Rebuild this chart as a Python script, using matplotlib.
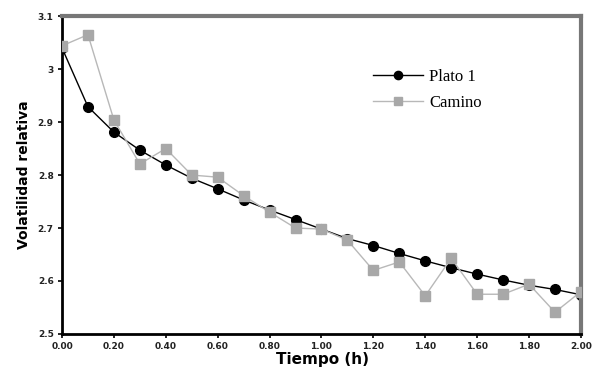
import matplotlib
matplotlib.use("Agg")
import matplotlib.pyplot as plt
from matplotlib.ticker import FormatStrFormatter

tiempo = [0.0, 0.1, 0.2, 0.3, 0.4, 0.5, 0.6, 0.7, 0.8, 0.9, 1.0,
          1.1, 1.2, 1.3, 1.4, 1.5, 1.6, 1.7, 1.8, 1.9, 2.0]
plato1 = [3.040, 2.929, 2.881, 2.847, 2.819, 2.794, 2.774, 2.753, 2.734, 2.716, 2.698,
          2.680, 2.667, 2.652, 2.638, 2.625, 2.613, 2.602, 2.592, 2.584, 2.574]
camino = [3.044, 3.065, 2.904, 2.821, 2.850, 2.800, 2.796, 2.761, 2.730, 2.700, 2.698,
          2.677, 2.620, 2.636, 2.572, 2.643, 2.575, 2.575, 2.594, 2.541, 2.580]

xticks = [0.0, 0.2, 0.4, 0.6, 0.8, 1.0, 1.2, 1.4, 1.6, 1.8, 2.0]
yticks = [2.5, 2.6, 2.7, 2.8, 2.9, 3.0, 3.1]
ytick_labels = ["2.5", "2.6", "2.7", "2.8", "2.9", "3", "3.1"]

fig = plt.figure(figsize=(6.02, 3.67), dpi=100)
ax = fig.add_axes([0.103, 0.09, 0.862, 0.866])

ax.plot(tiempo, plato1, color="black", lw=1.0, marker="o", ms=7,
        mfc="black", mec="black", label="Plato 1", zorder=2)
ax.plot(tiempo, camino, color="#b8b8b8", lw=1.0, marker="s", ms=7,
        mfc="#a8a8a8", mec="#a8a8a8", label="Camino", zorder=3)

ax.set_xlim(0, 2.0)
ax.set_ylim(2.5, 3.1)
ax.set_xticks(xticks)
ax.set_yticks(yticks)
ax.set_yticklabels(ytick_labels)
ax.xaxis.set_major_formatter(FormatStrFormatter("%.2f"))
ax.tick_params(labelsize=6.5, length=3, width=1.2, pad=3)
for lab in ax.get_xticklabels() + ax.get_yticklabels():
    lab.set_fontweight("bold")
    lab.set_color("#222222")

for s in ["left", "bottom"]:
    ax.spines[s].set_color("black")
    ax.spines[s].set_linewidth(2)
for s in ["top", "right"]:
    ax.spines[s].set_color("#777777")
    ax.spines[s].set_linewidth(3)

ax.set_ylabel("Volatilidad relativa", fontsize=10, fontweight="bold", labelpad=5)
fig.text(0.535, 0.008, "Tiempo (h)", fontsize=11, fontweight="bold",
         ha="center", va="baseline")

ax.legend(loc="upper left", bbox_to_anchor=(0.57, 0.88),
          frameon=False, prop={"family": "Liberation Serif", "size": 12},
          handlelength=3.0, handletextpad=0.4, labelspacing=0.6, markerscale=0.85)

fig.savefig("out.png", dpi=100)
